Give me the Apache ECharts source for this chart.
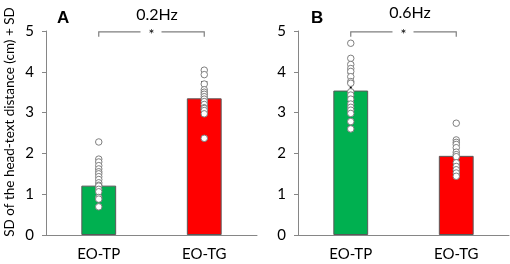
<!DOCTYPE html>
<html><head><meta charset="utf-8">
<script src="https://cdn.jsdelivr.net/npm/echarts@6/dist/echarts.min.js"></script>
<style>html,body{margin:0;padding:0;background:#fff}#c{width:510px;height:264px}</style>
</head><body><div id="c"></div>
<script>
const categories = ['EO-TP', 'EO-TG'];
const yTicks = [0, 1, 2, 3, 4, 5];
const panelTitles = ['0.2Hz', '0.6Hz'];
const panelLetters = ['A', 'B'];
const yAxisTitle = 'SD of the head-text distance (cm) + SD';
// Panel A (0.2Hz)
const meanA = [1.21, 3.35];
const sdA = [0.40, 0.40];
const dotsA_TP = [2.28, 1.86, 1.79, 1.70, 1.62, 1.55, 1.50, 1.43, 1.36, 1.28, 1.22, 1.20, 1.12, 1.06, 0.92, 0.88, 0.69];
const dotsA_TG = [4.04, 3.93, 3.70, 3.56, 3.50, 3.45, 3.39, 3.33, 3.27, 3.20, 3.12, 3.10, 3.05, 2.97, 2.37];
// Panel B (0.6Hz)
const meanB = [3.54, 1.94];
const sdB = [0.43, 0.33];
const dotsB_TP = [4.70, 4.33, 4.18, 4.08, 4.01, 3.88, 3.76, 3.72, 3.51, 3.43, 3.33, 3.21, 3.13, 3.06, 2.98, 2.78, 2.60];
const dotsB_TG = [2.74, 2.33, 2.27, 2.22, 2.14, 2.03, 1.97, 1.92, 1.77, 1.68, 1.60, 1.52, 1.44];
const sigLabel = '*';

const barColors = ['#00B050', '#FF0000'];
const axisColor = '#868686';
const font = 'Lato, "Open Sans", sans-serif';

const chart = echarts.init(document.getElementById('c'), null, {renderer: 'canvas'});

function makeX(i) {
  return {
    type: 'category', gridIndex: i, data: categories,
    axisLine: {lineStyle: {color: axisColor, width: 1}},
    axisTick: {show: false},
    axisLabel: {color: '#000', fontSize: 15, fontFamily: font, margin: 12}
  };
}
function makeY(i) {
  return {
    type: 'value', gridIndex: i, min: 0, max: 5, interval: 1,
    axisLine: {show: true, lineStyle: {color: axisColor, width: 1}},
    axisTick: {show: true, length: 4, lineStyle: {color: axisColor}},
    splitLine: {show: false},
    axisLabel: {color: '#000', fontSize: 15, fontFamily: font, margin: 12,
      formatter: v => yTicks.includes(v) ? String(v) : ''}
  };
}
function barSeries(i, means) {
  return {
    type: 'bar', xAxisIndex: i, yAxisIndex: i, barWidth: '33%',
    data: means.map((v, k) => ({value: v, itemStyle: {color: barColors[k]}})),
    itemStyle: {borderColor: '#595959', borderWidth: 1},
    silent: true, z: 2
  };
}
function errSeries(i, means, sds) {
  return {
    type: 'custom', xAxisIndex: i, yAxisIndex: i, z: 3,
    data: means.map((m, k) => [k, m, m + sds[k]]),
    renderItem: (params, api) => {
      const p0 = api.coord([api.value(0), api.value(1)]);
      const p1 = api.coord([api.value(0), api.value(2)]);
      return {type: 'group', children: [
        {type: 'line', shape: {x1: p0[0], y1: p0[1], x2: p1[0], y2: p1[1]}, style: {stroke: '#000', lineWidth: 2}},
        {type: 'line', shape: {x1: p1[0] - 3, y1: p1[1], x2: p1[0] + 3, y2: p1[1]}, style: {stroke: '#000', lineWidth: 2}}
      ]};
    }
  };
}
function dotSeries(i, arrs) {
  const data = [];
  arrs.forEach((arr, k) => arr.forEach(v => data.push([k, v])));
  return {
    type: 'scatter', xAxisIndex: i, yAxisIndex: i, z: 4, symbolSize: 6.5,
    itemStyle: {color: '#fff', borderColor: '#7f7f7f', borderWidth: 1, opacity: 1},
    data: data, silent: true
  };
}
function bracketSeries(i) {
  return {
    type: 'custom', xAxisIndex: i, yAxisIndex: i, z: 5,
    data: [[0, 1, 4.98, 4.86]],
    renderItem: (params, api) => {
      const a = api.coord([api.value(0), api.value(2)]);
      const b = api.coord([api.value(1), api.value(2)]);
      const legY = api.coord([api.value(0), api.value(3)])[1];
      const mid = (a[0] + b[0]) / 2;
      const st = {stroke: '#7f7f7f', lineWidth: 1.2};
      return {type: 'group', children: [
        {type: 'polyline', shape: {points: [[a[0], legY], [a[0], a[1]], [mid - 11, a[1]]]}, style: Object.assign({fill: null}, st)},
        {type: 'polyline', shape: {points: [[mid + 10, a[1]], [b[0], b[1]], [b[0], legY]]}, style: Object.assign({fill: null}, st)},
        {type: 'text', style: {text: sigLabel, x: mid, y: a[1] + 3, align: 'center', verticalAlign: 'middle', fontSize: 14, fontFamily: font, fill: '#000'}}
      ]};
    }
  };
}

chart.setOption({
  animation: false,
  backgroundColor: '#fff',
  title: [
    {text: panelTitles[0], left: 152, top: 2, textAlign: 'center', textStyle: {fontSize: 16, fontWeight: 'normal', fontFamily: font, color: '#000'}},
    {text: panelTitles[1], left: 405, top: 0, textAlign: 'center', textStyle: {fontSize: 16, fontWeight: 'normal', fontFamily: font, color: '#000'}},
    {text: panelLetters[0], left: 52, top: 5, textStyle: {fontSize: 17, fontWeight: 'bold', fontFamily: 'Liberation Sans, Arial, sans-serif', color: '#000'}},
    {text: panelLetters[1], left: 306, top: 5, textStyle: {fontSize: 17, fontWeight: 'bold', fontFamily: 'Liberation Sans, Arial, sans-serif', color: '#000'}}
  ],
  graphic: [{
    type: 'text', x: 10, y: 122, rotation: Math.PI / 2,
    style: {text: yAxisTitle, fontSize: 13.5, fontFamily: font, fill: '#000', align: 'center', verticalAlign: 'middle'}
  }],
  grid: [
    {left: 46, top: 31, width: 211, height: 204},
    {left: 298, top: 31, width: 211, height: 204}
  ],
  xAxis: [makeX(0), makeX(1)],
  yAxis: [makeY(0), makeY(1)],
  series: [
    barSeries(0, meanA), errSeries(0, meanA, sdA), dotSeries(0, [dotsA_TP, dotsA_TG]), bracketSeries(0),
    barSeries(1, meanB), errSeries(1, meanB, sdB), dotSeries(1, [dotsB_TP, dotsB_TG]), bracketSeries(1)
  ]
});
</script></body></html>
